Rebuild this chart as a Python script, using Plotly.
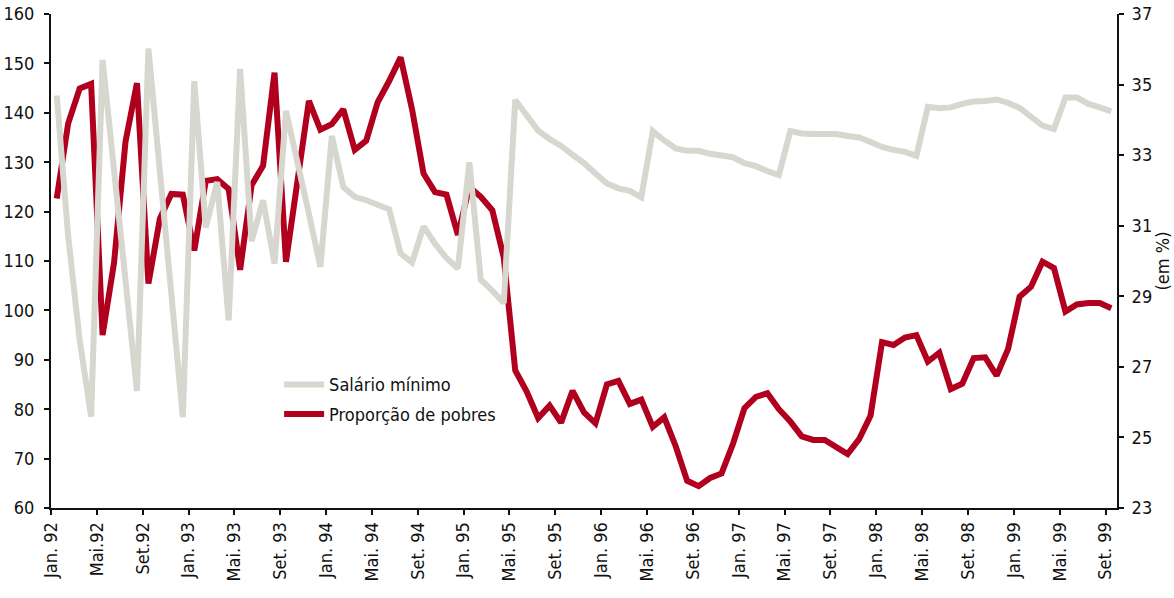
import plotly.graph_objects as go

# ---------------- data ----------------
# monthly observations, Jan.92 .. Set.99 (93 months)
month_index = list(range(93))

salario_minimo = [
    143.5, 115.0, 94.0, 78.5, 150.7, 128.0, 106.0, 83.7, 153.0, 128.0,
    103.0, 78.4, 146.4, 116.8, 126.0, 98.0, 148.9, 114.0, 122.3, 109.5,
    140.4, 130.4, 119.6, 108.8, 135.3, 125.0, 123.0, 122.3, 121.5, 120.5,
    111.5, 109.7, 117.0, 113.5, 110.6, 108.5, 130.0, 106.2, 104.0, 101.5,
    142.6, 139.4, 136.4, 134.7, 133.3, 131.5, 129.8, 127.7, 125.7, 124.7,
    124.2, 122.9, 136.3, 134.4, 132.8, 132.3, 132.3, 131.7, 131.3, 131.0,
    129.8, 129.2, 128.2, 127.4, 136.3, 135.8, 135.7, 135.7, 135.7, 135.3,
    135.0, 134.1, 133.1, 132.5, 132.1, 131.3, 141.2, 140.9, 141.1, 141.8,
    142.3, 142.4, 142.7, 142.0, 141.0, 139.2, 137.4, 136.7, 143.1, 143.1,
    141.8, 141.1, 140.3,
]

proporcao_pobres = [
    31.77, 33.90, 34.89, 35.02, 27.90, 29.95, 33.38, 35.04, 29.36, 31.20,
    31.90, 31.88, 30.30, 32.27, 32.32, 32.04, 29.75, 32.15, 32.70, 35.34,
    29.98, 32.20, 34.54, 33.72, 33.88, 34.30, 33.15, 33.41, 34.50, 35.10,
    35.77, 34.30, 32.48, 31.95, 31.88, 30.74, 32.10, 31.82, 31.44, 30.10,
    26.90, 26.30, 25.55, 25.90, 25.42, 26.32, 25.71, 25.40, 26.50, 26.60,
    25.95, 26.07, 25.30, 25.57, 24.75, 23.77, 23.62, 23.85, 23.98, 24.82,
    25.83, 26.15, 26.25, 25.80, 25.45, 25.03, 24.93, 24.93, 24.72, 24.53,
    24.95, 25.62, 27.70, 27.62, 27.83, 27.90, 27.15, 27.40, 26.37, 26.52,
    27.25, 27.27, 26.75, 27.51, 28.99, 29.27, 29.98, 29.80, 28.57, 28.77,
    28.81, 28.81, 28.66,
]

tick_labels = [
    "Jan. 92", "Mai.92", "Set.92", "Jan. 93", "Mai. 93", "Set. 93",
    "Jan. 94", "Mai. 94", "Set. 94", "Jan. 95", "Mai. 95", "Set. 95",
    "Jan. 96", "Mai. 96", "Set. 96", "Jan. 97", "Mai. 97", "Set. 97",
    "Jan. 98", "Mai. 98", "Set. 98", "Jan. 99", "Mai. 99", "Set. 99",
]
# each label sits on the left boundary of its month (every 4 months)
tick_pos = [4 * k - 0.5 for k in range(len(tick_labels))]

# ---------------- styling ----------------
FONT = "DejaVu Sans Condensed, Liberation Sans Narrow, sans-serif"
GRAY = "#d7d7cf"
RED = "#b1001e"
AX = "#111111"
XR = [-0.5, 92.5]

fig = go.Figure()

fig.add_trace(go.Scatter(
    x=month_index, y=proporcao_pobres, name="Proporção de pobres",
    mode="lines", line=dict(color=RED, width=6),
    xaxis="x", yaxis="y", legend="legend2", hoverinfo="skip",
))
fig.add_trace(go.Scatter(
    x=month_index, y=salario_minimo, name="Salário mínimo",
    mode="lines", line=dict(color=GRAY, width=6),
    xaxis="x", yaxis="y2", legend="legend", hoverinfo="skip",
))

tickfont = dict(family=FONT, size=18, color=AX)

fig.update_layout(
    width=1174, height=598,
    margin=dict(l=51, r=57, t=14, b=90),
    paper_bgcolor="white", plot_bgcolor="white",
    font=dict(family=FONT, size=18, color=AX),
    xaxis=dict(
        range=XR, tickmode="array", tickvals=tick_pos, ticktext=tick_labels,
        tickangle=-90, ticks="outside", ticklen=5, tickwidth=2, tickcolor=AX,
        showline=True, linecolor=AX, linewidth=2, showgrid=False, zeroline=False,
        tickfont=tickfont, anchor="y", automargin=False, ticklabeloverflow="allow",
    ),
    xaxis2=dict(
        range=XR, overlaying="x", anchor="y", side="bottom",
        tickmode="array", tickvals=tick_pos, ticks="inside", ticklen=5,
        tickwidth=2, tickcolor=AX, showticklabels=False, showline=False,
        showgrid=False, zeroline=False, automargin=False,
    ),
    yaxis=dict(
        range=[23, 37], dtick=2, tick0=23, side="right", anchor="x",
        ticks="outside", ticklen=5, tickwidth=2, tickcolor=AX,
        showline=True, linecolor=AX, linewidth=2, showgrid=False, zeroline=False,
        tickfont=tickfont, ticklabelstandoff=4, automargin=False,
        ticklabeloverflow="allow",
        title=dict(text="(em %)", font=dict(family=FONT, size=18, color=AX), standoff=0),
    ),
    yaxis2=dict(
        range=[60, 160], dtick=10, tick0=60, side="left", anchor="x",
        overlaying="y", ticks="outside", ticklen=5, tickwidth=2, tickcolor=AX,
        showline=True, linecolor=AX, linewidth=2, showgrid=False, zeroline=False,
        tickfont=tickfont, ticklabelstandoff=6, automargin=False,
        ticklabeloverflow="allow",
    ),
    yaxis3=dict(
        range=[60, 160], dtick=10, tick0=60, side="left", anchor="x",
        overlaying="y", ticks="inside", ticklen=4, tickwidth=2, tickcolor=AX,
        showticklabels=False, showline=False, showgrid=False, zeroline=False,
        automargin=False,
    ),
    yaxis4=dict(
        range=[23, 37], dtick=2, tick0=23, side="right", anchor="x",
        overlaying="y", ticks="inside", ticklen=4, tickwidth=2, tickcolor=AX,
        showticklabels=False, showline=False, showgrid=False, zeroline=False,
        automargin=False,
    ),
    legend=dict(
        x=0.214, y=0.287, xanchor="left", yanchor="top", itemwidth=40,
        bgcolor="rgba(0,0,0,0)", font=dict(family=FONT, size=18, color=AX),
    ),
    legend2=dict(
        x=0.214, y=0.227, xanchor="left", yanchor="top", itemwidth=40,
        bgcolor="rgba(0,0,0,0)", font=dict(family=FONT, size=18, color=AX),
    ),
    showlegend=True,
)

# remove the default page margin so the figure sits at the window's top-left corner
fig.write_html(
    "out.html",
    config={"displayModeBar": False},
    post_script="document.body.style.margin='0';document.body.style.padding='0';",
)
